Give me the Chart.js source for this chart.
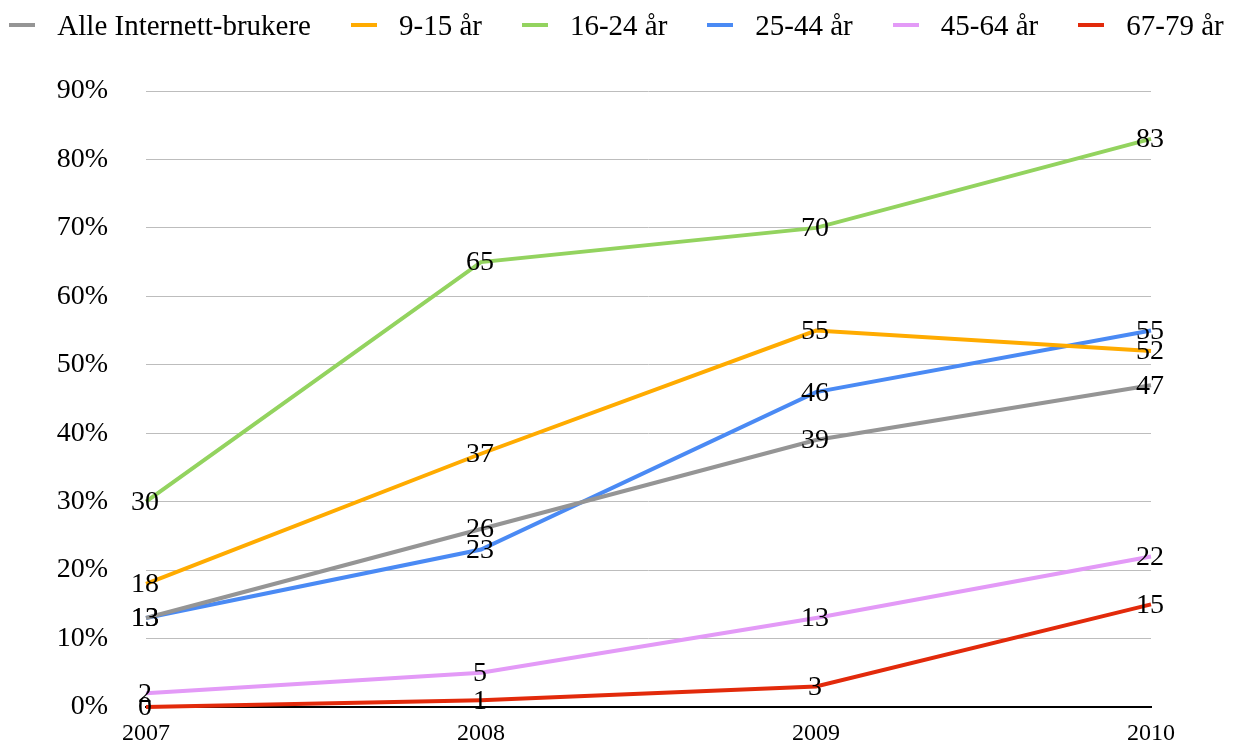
<!DOCTYPE html>
<html>
<head>
<meta charset="utf-8">
<script src="https://cdn.jsdelivr.net/npm/chart.js@4.4.1/dist/chart.umd.min.js"></script>
<style>
  html, body { margin: 0; padding: 0; background: #fff; }
  #wrap { position: relative; width: 1233px; height: 742px; }
  #legend {
    position: absolute; top: 8px; left: 0; width: 1233px; height: 34px;
    display: flex; justify-content: center; align-items: center;
    font-family: "Liberation Serif", "Times New Roman", serif; font-size: 29px; color: #000;
  }
  .item { display: flex; align-items: center; margin: 0 20px; white-space: nowrap; }
  .item:first-child { margin-left: 0; }
  .item:last-child { margin-right: 0; }
  .mark { width: 26px; height: 4px; margin-right: 22px; }
</style>
</head>
<body>
<div id="wrap">
  <canvas id="lineChart" width="1233" height="742"></canvas>
  <div id="legend"></div>
</div>
<script>
var years = ["2007", "2008", "2009", "2010"]
var seriesNames = ["Alle Internett-brukere", "9-15 år", "16-24 år", "25-44 år", "45-64 år", "67-79 år"]
var alle = [13, 26, 39, 47]
var age9to15 = [18, 37, 55, 52]
var age16to24 = [30, 65, 70, 83]
var age25to44 = [13, 23, 46, 55]
var age45to64 = [2, 5, 13, 22]
var age67to79 = [0, 1, 3, 15]
var yTicks = [0, 10, 20, 30, 40, 50, 60, 70, 80, 90]

var colors = ['#959595', '#ffab00', '#93d35f', '#4a8af4', '#e39af7', '#e22a0b']
var values = [alle, age9to15, age16to24, age25to44, age45to64, age67to79]
var serif = '"Liberation Serif", "Times New Roman", serif'

// legend as html, so the marker/text spacing can follow the picture
var legend = document.getElementById('legend')
seriesNames.forEach(function(name, i){
  var item = document.createElement('div')
  item.className = 'item'
  var mark = document.createElement('span')
  mark.className = 'mark'
  mark.style.background = colors[i]
  var txt = document.createElement('span')
  txt.textContent = name
  item.appendChild(mark)
  item.appendChild(txt)
  legend.appendChild(item)
})

// value labels centred on each point
var pointLabels = {
  id: 'pointLabels',
  afterDatasetsDraw: function(chart){
    var ctx = chart.ctx
    ctx.save()
    ctx.font = '28px ' + serif
    ctx.fillStyle = '#000'
    ctx.textAlign = 'center'
    ctx.textBaseline = 'middle'
    chart.data.datasets.forEach(function(ds, i){
      chart.getDatasetMeta(i).data.forEach(function(pt, j){
        ctx.fillText(String(ds.data[j]), pt.x - 1, pt.y + 1)
      })
    })
    ctx.restore()
  }
}

var ctx = document.getElementById('lineChart').getContext('2d')
var myChart = new Chart(ctx, {
  type: 'line',
  plugins: [pointLabels],
  data: {
    labels: years,
    datasets: seriesNames.map(function(name, i){
      return {
        label: name,
        data: values[i],
        borderColor: colors[i],
        backgroundColor: colors[i],
        borderWidth: 4,
        pointRadius: 0,
        tension: 0,
        clip: false
      }
    })
  },
  options: {
    responsive: false,
    animation: false,
    layout: {
      padding: { top: 91, right: 82, left: 0, bottom: 0 }
    },
    plugins: {
      legend: { display: false },
      tooltip: { enabled: false }
    },
    scales: {
      x: {
        offset: false,
        grid: { display: false, drawTicks: false },
        border: { display: true, color: '#000', width: 2 },
        ticks: {
          color: '#000',
          padding: 12,
          maxRotation: 0,
          autoSkip: false,
          font: { family: serif, size: 24 }
        },
        afterFit: function(scale){
          scale.height = 35
          scale.paddingLeft = 0
          scale.paddingRight = 0
        }
      },
      y: {
        min: 0,
        max: 90,
        afterBuildTicks: function(scale){
          scale.ticks = yTicks.map(function(v){ return { value: v } })
        },
        grid: { color: '#bdbdbd', lineWidth: 1, drawTicks: false },
        border: { display: false },
        ticks: {
          color: '#000',
          padding: 38,
          font: { family: serif, size: 28 },
          callback: function(v){ return v + '%' }
        },
        afterFit: function(scale){
          // fixed axis width, and no extra room kept for the top/bottom tick labels
          scale.width = 146
          scale.paddingTop = 0
          scale.paddingBottom = 0
        }
      }
    }
  }
})
</script>
</body>
</html>
